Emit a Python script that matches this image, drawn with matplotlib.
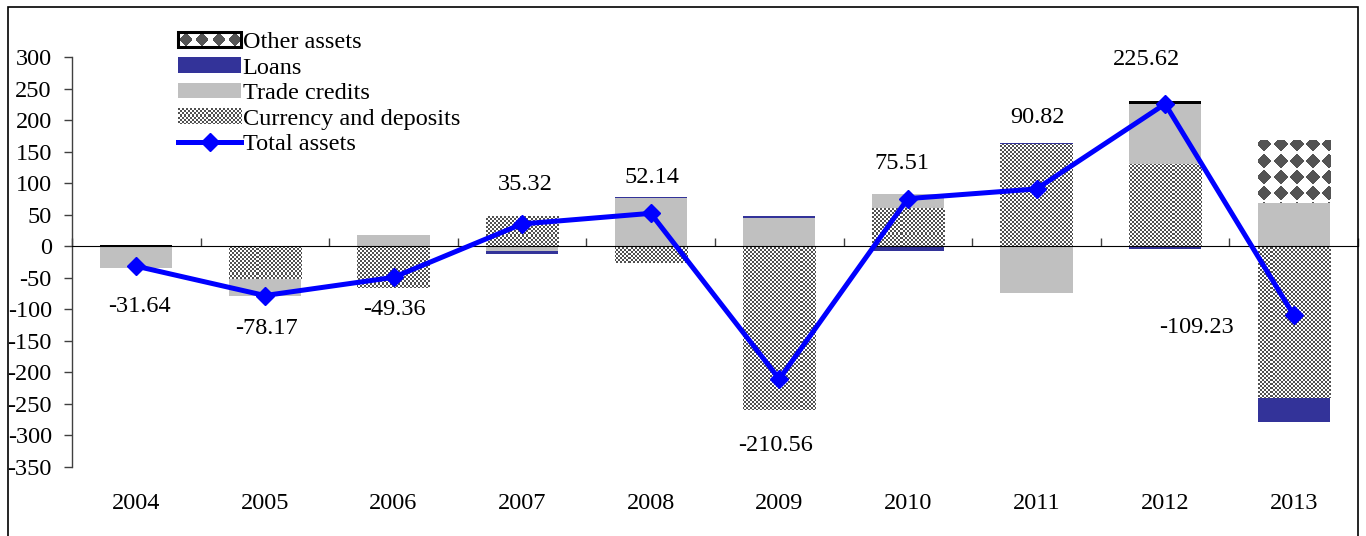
import numpy as np
import matplotlib
matplotlib.use("Agg")
import matplotlib.pyplot as plt
from matplotlib.patches import Rectangle, Patch
from matplotlib.lines import Line2D
from matplotlib.image import BboxImage
from matplotlib.transforms import Bbox, TransformedBbox
from matplotlib.legend_handler import HandlerBase

plt.rcParams["font.family"] = ["Liberation Serif", "DejaVu Serif"]
plt.rcParams["axes.unicode_minus"] = False

# ---- data -------------------------------------------------------------
years = ["2004", "2005", "2006", "2007", "2008", "2009", "2010", "2011", "2012", "2013"]
currency_deposits = [-1.5, -52.5, -66.9, 48.0, -26.0, -259.0, 60.5, 161.5, 130.0, -240.0]
trade_credits = [-32.6, -25.7, 17.5, -7.0, 77.0, 45.0, 22.0, -73.5, 96.0, 68.5]
loans = [0.0, 0.0, 0.0, -5.7, 1.2, 3.5, -7.0, 2.8, -3.9, -38.5]
other_assets = [2.5, 0.0, 0.0, 0.0, 0.0, 0.0, 0.0, 0.0, 3.5, 100.5]
total_assets = [-31.64, -78.17, -49.36, 35.32, 52.14, -210.56, 75.51, 90.82, 225.62, -109.23]

# label offsets for the total-assets values, in pixels (dx, dy)
label_offsets = [(3, -40), (2, -33), (1, -32), (3, 39), (1, 36),
                 (-4, -66), (-6, 35), (1, 71), (-19, 44), (-97, -12)]

W, H, DPI = 1366, 536, 100
FS = 17.5
GRAY_DARK = (0.32, 0.32, 0.32)


def checker(h, w, cell=2):
    r = np.arange(h)[:, None] // cell
    c = np.arange(w)[None, :] // cell
    dark = ((r + c) % 2) == 0
    img = np.ones((h, w, 3))
    img[dark] = GRAY_DARK
    return img


def diamonds(h, w, period=16, radius=7.0):
    r = (np.arange(h)[:, None] % period) - period / 2 + 0.5
    c = (np.arange(w)[None, :] % period) - period / 2 + 0.5
    dark = (np.abs(r) + np.abs(c)) <= radius
    img = np.ones((h, w, 3))
    img[dark] = (0.33, 0.33, 0.33)
    return img


fig = plt.figure(figsize=(W / DPI, H / DPI), dpi=DPI)
ax_l, ax_r, ax_t, ax_b = 72, 1358, 57, 467
ax = fig.add_axes([ax_l / W, 1 - ax_b / H, (ax_r - ax_l) / W, (ax_b - ax_t) / H])
ax_wpx, ax_hpx = ax_r - ax_l, ax_b - ax_t

n = len(years)
x = np.arange(n)
xlim = (-0.5, n - 0.5)
ylim = (-350, 300)
bar_w = 0.56

tex_checker = checker(ax_hpx, ax_wpx)
tex_diamond = diamonds(ax_hpx, ax_wpx)

series = [
    ("Currency and deposits", currency_deposits, "checker"),
    ("Trade credits", trade_credits, "#c0c0c0"),
    ("Loans", loans, "#333399"),
    ("Other assets", other_assets, "diamond"),
]

pos = np.zeros(n)
neg = np.zeros(n)
for name, vals, style in series:
    v = np.asarray(vals, dtype=float)
    bottom = np.where(v >= 0, pos, neg)
    if style in ("checker", "diamond"):
        tex = tex_checker if style == "checker" else tex_diamond
        # very thin patterned segments show only their dark outline
        thin = [(style == "diamond" and 0 < abs(val) < 10) for val in v]
        faces = ["black" if t else "none" for t in thin]
        bars = ax.bar(x, v, bar_w, bottom=bottom, color=faces,
                      edgecolor="none", zorder=1.6)
        for b, val, t in zip(bars, v, thin):
            if val == 0 or t:
                continue
            im = ax.imshow(tex, extent=(*xlim, *ylim), aspect="auto",
                           interpolation="nearest", origin="upper", zorder=1.5)
            im.set_clip_path(b)
    else:
        ax.bar(x, v, bar_w, bottom=bottom, color=style, edgecolor="none", zorder=1.5)
    pos += np.where(v > 0, v, 0)
    neg += np.where(v < 0, v, 0)

# total assets line
ax.plot(x, total_assets, color="#0000ff", lw=3.6, marker="D", ms=9,
        markeredgecolor="#0000ff", zorder=4, clip_on=False)
for xi, val, (dx, dy) in zip(x, total_assets, label_offsets):
    ax.annotate(f"{val:.2f}", (xi, val), xytext=(dx * 0.72, dy * 0.72),
                textcoords="offset points", ha="center", va="center",
                fontsize=FS, zorder=5)

ax.set_xlim(*xlim)
ax.set_ylim(*ylim)

# axes styling
for s in ("top", "right", "bottom"):
    ax.spines[s].set_visible(False)
ax.spines["left"].set_color("#404040")
ax.spines["left"].set_linewidth(1.0)
ax.set_yticks(np.arange(-350, 301, 50))
ax.tick_params(axis="y", direction="out", length=6, width=1, color="#404040",
               pad=8.5, labelsize=FS)
ax.set_xticks(x)
ax.set_xticklabels(years)
ax.tick_params(axis="x", length=0, pad=19, labelsize=FS)

# category axis drawn at zero with boundary tick marks
zero_frac = (0 - ylim[0]) / (ylim[1] - ylim[0])
sec = ax.secondary_xaxis(zero_frac)
sec.set_xticks(np.arange(n + 1) - 0.5)
sec.set_xticklabels([])
sec.tick_params(axis="x", direction="out", length=6, width=1, color="#404040")
sec.spines["bottom"].set_color("#404040")
sec.spines["bottom"].set_linewidth(1.0)
sec.set_zorder(2.5)


# legend with textured swatches
class HandlerTexture(HandlerBase):
    def __init__(self, maker, edge=None):
        super().__init__()
        self.maker = maker
        self.edge = edge

    def legend_artist(self, legend, orig_handle, fontsize, handlebox):
        x0, y0 = handlebox.xdescent, handlebox.ydescent
        w, h = handlebox.width, handlebox.height
        trans = handlebox.get_transform()
        bb = TransformedBbox(Bbox.from_bounds(-x0, -y0, w, h), trans)
        img = BboxImage(bb, interpolation="nearest")
        img.set_data(self.maker(int(round(h * DPI / 72)), int(round(w * DPI / 72))))
        handlebox.add_artist(img)
        if self.edge:
            rect = Rectangle((-x0, -y0), w, h, facecolor="none",
                             edgecolor=self.edge, linewidth=2.2, transform=trans)
            handlebox.add_artist(rect)
        return img


h_other = Patch(label="Other assets")
h_loans = Patch(facecolor="#333399", label="Loans")
h_trade = Patch(facecolor="#c0c0c0", label="Trade credits")
h_curr = Patch(label="Currency and deposits")
h_total = Line2D([], [], color="#0000ff", lw=3.6, marker="D", ms=9,
                 markeredgecolor="#0000ff", label="Total assets")

leg = fig.legend(
    handles=[h_other, h_loans, h_trade, h_curr, h_total],
    handler_map={
        h_other: HandlerTexture(lambda hh, ww: diamonds(hh, ww, period=16, radius=6.0), edge="black"),
        h_curr: HandlerTexture(lambda hh, ww: checker(hh, ww)),
    },
    loc="upper left", bbox_to_anchor=(178 / W, 1 - 32 / H),
    bbox_transform=fig.transFigure, frameon=False, fontsize=FS,
    handlelength=2.6, handleheight=0.6, handletextpad=0.06,
    labelspacing=0.17, borderpad=0, borderaxespad=0,
)

# outer frame
fig.patches.append(Rectangle((8 / W, -0.05), 1350 / W, 1.05 - 7 / H,
                             transform=fig.transFigure, fill=False,
                             edgecolor="black", linewidth=1.2))

fig.savefig("out.png", dpi=DPI)
